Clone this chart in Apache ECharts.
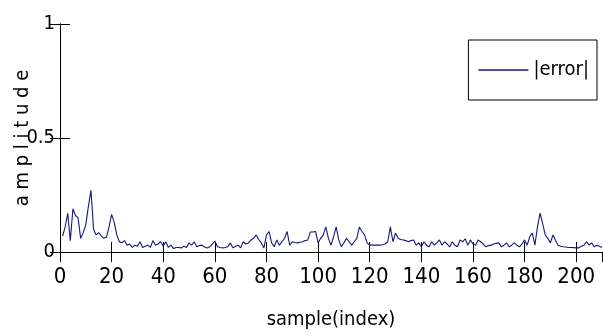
<!DOCTYPE html>
<html>
<head>
<meta charset="utf-8">
<script src="https://cdn.jsdelivr.net/npm/echarts@6/dist/echarts.min.js"></script>
<style>
html, body { margin: 0; padding: 0; background: #fff; }
#chart { width: 603px; height: 336px; }
</style>
</head>
<body>
<div id="chart"></div>
<script>
// |error| per sample (index 1..210)
const errorValues = [
  0.07, 0.11, 0.17, 0.05, 0.19, 0.16, 0.15, 0.06, 0.085, 0.12,
  0.2, 0.27, 0.1, 0.075, 0.085, 0.07, 0.06, 0.065, 0.11, 0.165,
  0.13, 0.075, 0.045, 0.04, 0.05, 0.03, 0.035, 0.02, 0.03, 0.025,
  0.045, 0.02, 0.025, 0.03, 0.02, 0.05, 0.03, 0.035, 0.045, 0.025,
  0.045, 0.02, 0.03, 0.015, 0.02, 0.02, 0.018, 0.025, 0.02, 0.04,
  0.03, 0.045, 0.023, 0.028, 0.03, 0.022, 0.018, 0.023, 0.035, 0.048,
  0.023, 0.02, 0.018, 0.02, 0.023, 0.04, 0.018, 0.025, 0.03, 0.018,
  0.045, 0.035, 0.04, 0.053, 0.06, 0.075, 0.055, 0.04, 0.018, 0.075,
  0.09, 0.04, 0.023, 0.053, 0.03, 0.045, 0.06, 0.09, 0.03, 0.045,
  0.042, 0.04, 0.043, 0.045, 0.05, 0.053, 0.088, 0.088, 0.09, 0.04,
  0.06, 0.075, 0.11, 0.06, 0.03, 0.067, 0.11, 0.053, 0.023, 0.04,
  0.06, 0.045, 0.03, 0.045, 0.06, 0.11, 0.09, 0.075, 0.04, 0.03,
  0.03, 0.03, 0.03, 0.03, 0.032, 0.035, 0.045, 0.11, 0.045, 0.083,
  0.06, 0.055, 0.053, 0.05, 0.045, 0.05, 0.053, 0.03, 0.04, 0.023,
  0.045, 0.03, 0.023, 0.045, 0.03, 0.04, 0.053, 0.03, 0.045, 0.035,
  0.023, 0.045, 0.03, 0.023, 0.053, 0.045, 0.058, 0.03, 0.053, 0.035,
  0.03, 0.053, 0.045, 0.035, 0.023, 0.028, 0.03, 0.035, 0.038, 0.04,
  0.023, 0.03, 0.04, 0.023, 0.03, 0.04, 0.03, 0.023, 0.035, 0.053,
  0.03, 0.067, 0.083, 0.03, 0.11, 0.17, 0.125, 0.075, 0.06, 0.04,
  0.075, 0.05, 0.03, 0.025, 0.023, 0.022, 0.02, 0.02, 0.019, 0.018,
  0.018, 0.025, 0.03, 0.045, 0.03, 0.04, 0.023, 0.03, 0.025, 0.02
];
const startIndex = 1;
const xMax = 210;
const xStep = 20;
const yStep = 0.5;

const font = "'Liberation Sans Narrow', 'DejaVu Sans Condensed', sans-serif";
const lineColor = '#16167e';

const points = errorValues.map((v, i) => [startIndex + i, v]);

const chart = echarts.init(document.getElementById('chart'));

const boxAxis = {
  axisLine: { show: true, lineStyle: { color: '#000', width: 1 } },
  axisTick: { show: true, inside: true, length: 10, lineStyle: { color: '#000' } },
  splitLine: { show: false }
};

const option = {
  animation: false,
  backgroundColor: '#fff',
  grid: { left: 60, right: 1, top: 24, bottom: 84, outerBoundsMode: 'none', containLabel: false },
  legend: {
    data: [{ name: '|error|', icon: 'rect' }],
    right: 6,
    top: 40,
    orient: 'vertical',
    backgroundColor: '#fff',
    borderColor: '#000',
    borderWidth: 1,
    borderRadius: 0,
    padding: [19, 8, 19, 10],
    itemWidth: 50,
    itemHeight: 1.5,
    itemGap: 0,
    textStyle: { fontFamily: font, fontSize: 20, color: '#000', lineHeight: 22 }
  },
  xAxis: [
    Object.assign({}, boxAxis, {
      type: 'value',
      min: 0,
      max: xMax,
      interval: xStep,
      name: 'sample(index)',
      nameLocation: 'middle',
      nameGap: 58,
      nameMoveOverlap: false,
      nameTextStyle: { fontFamily: font, fontSize: 20, color: '#000' },
      axisLabel: { margin: 14, showMaxLabel: false, fontFamily: font, fontSize: 22, color: '#000' }
    }),
    Object.assign({}, boxAxis, {
      type: 'value',
      position: 'top',
      min: 0,
      max: xMax,
      interval: xStep,
      axisLabel: { show: false }
    })
  ],
  yAxis: [
    Object.assign({}, boxAxis, {
      type: 'value',
      min: 0,
      max: 1,
      interval: yStep,
      name: 'a m p l i t u d e',
      nameLocation: 'middle',
      nameGap: 27,
      nameMoveOverlap: false,
      nameTextStyle: { fontFamily: font, fontSize: 20, color: '#000' },
      axisLabel: { margin: 5, fontFamily: font, fontSize: 20, color: '#000' }
    }),
    Object.assign({}, boxAxis, {
      type: 'value',
      position: 'right',
      min: 0,
      max: 1,
      interval: yStep,
      axisLabel: { show: false }
    })
  ],
  series: [
    {
      name: '|error|',
      type: 'line',
      data: points,
      symbol: 'none',
      lineStyle: { color: lineColor, width: 1.1 },
      itemStyle: { color: lineColor }
    }
  ]
};

chart.setOption(option);
</script>
</body>
</html>
